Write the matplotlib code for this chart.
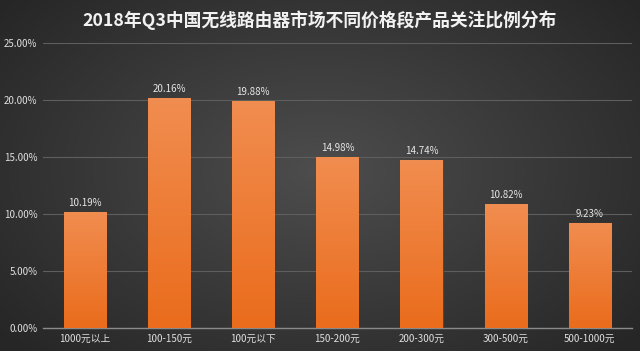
import numpy as np
import matplotlib
matplotlib.use("Agg")
import matplotlib.pyplot as plt
from matplotlib.colors import LinearSegmentedColormap

plt.rcParams['font.family'] = ['Noto Sans CJK SC', 'DejaVu Sans']

title = "2018年Q3中国无线路由器市场不同价格段产品关注比例分布"
categories = ["1000元以上", "100-150元", "100元以下", "150-200元", "200-300元", "300-500元", "500-1000元"]
values = [10.19, 20.16, 19.88, 14.98, 14.74, 10.82, 9.23]
yticks = [0, 5, 10, 15, 20, 25]

fig = plt.figure(figsize=(6.4, 3.51), dpi=100)

# background radial gradient
bg = fig.add_axes([0, 0, 1, 1], zorder=-10)
yy, xx = np.mgrid[0:351, 0:640]
r = np.sqrt(((xx - 320) / 420.0) ** 2 + ((yy - 170) / 260.0) ** 2)
bgcmap = LinearSegmentedColormap.from_list("bg", ["#4d4d4d", "#262626"])
bg.imshow(r, cmap=bgcmap, vmin=0, vmax=1.0, aspect='auto', extent=[0, 1, 0, 1])
bg.axis('off')

ax = fig.add_axes([0.0672, 0.066, 0.920, 0.812])
ax.patch.set_alpha(0)
x = np.arange(len(categories))
bars = ax.bar(x, values, width=0.5, color="#ee7a30", edgecolor="#7a3a10", linewidth=0.8, zorder=3)

barcmap = LinearSegmentedColormap.from_list("bar", ["#ea6c1c", "#f18d50"])
grad = np.linspace(0, 1, 256).reshape(-1, 1)
for b in bars:
    x0, w, h = b.get_x(), b.get_width(), b.get_height()
    im = ax.imshow(grad, cmap=barcmap, origin='lower', aspect='auto',
                   extent=[x0, x0 + w, 0, h], zorder=3.5)
    im.set_clip_path(b)
    ax.text(x0 + w / 2, h + 0.35, f"{h:.2f}%", ha='center', va='bottom',
            color="#e6e6e6", fontsize=7)

ax.set_xlim(-0.5, len(categories) - 0.5)
ax.set_ylim(0, 25)
ax.set_yticks(yticks)
ax.set_yticklabels([f"{v:.2f}%" for v in yticks])
ax.set_xticks(x)
ax.set_xticklabels(categories)
ax.tick_params(axis='both', length=0, colors="#e0e0e0", labelsize=7)
ax.tick_params(axis='x', pad=4)
ax.tick_params(axis='y', pad=4)
ax.grid(axis='y', color="#5e5e5e", linewidth=0.8, zorder=0)
for s in ['top', 'right', 'left']:
    ax.spines[s].set_visible(False)
ax.spines['bottom'].set_color("#8a8a8a")
ax.spines['bottom'].set_linewidth(1.0)

fig.text(0.5, 0.943, title, ha='center', va='center', color="#f2f2f2",
         fontsize=12.8, fontweight='bold')

fig.savefig("out.png", dpi=100)
